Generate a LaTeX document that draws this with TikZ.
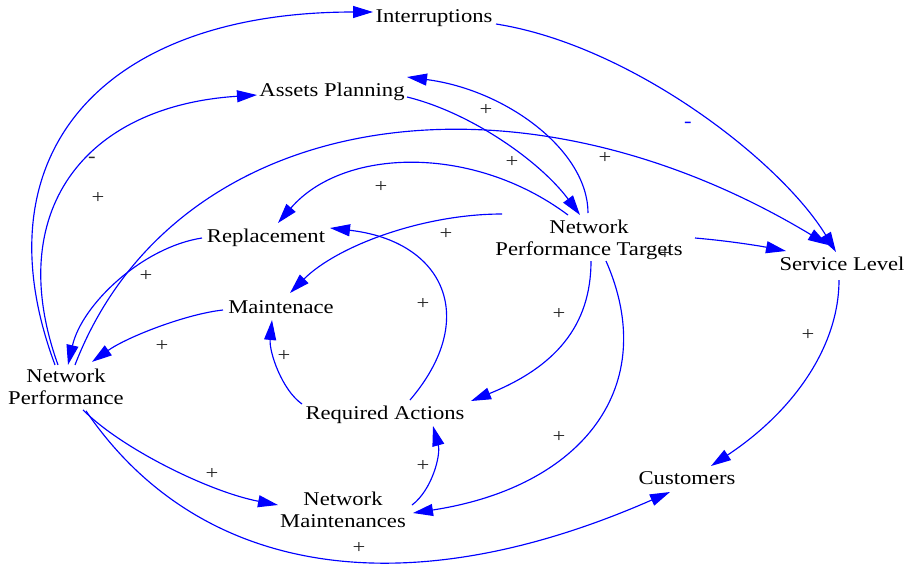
\documentclass[tikz,border=0pt]{standalone}
\usepackage{fontspec}
\setmainfont{Liberation Serif}
\usetikzlibrary{arrows.meta}
% horizontally widened text
\newcommand{\wtext}[1]{\scalebox{1.16}[1]{#1}}
\begin{document}
\begin{tikzpicture}[x=1pt,y=-1pt,
  var/.style={font=\fontsize{19.5}{22}\selectfont, inner sep=0pt, text=black},
  sign/.style={font=\fontsize{19.5}{22}\selectfont, inner sep=0pt, text=black!85},
  link/.style={draw=blue, line width=1.15pt, -{Triangle[length=20pt,width=12pt]}}]
\useasboundingbox (0,0) rectangle (918,566);

% variables
\node[var, anchor=base] (intr) at (434,22.7) {\wtext{Interruptions}};
\node[var, anchor=base] (ap)   at (332,96.5) {\wtext{Assets Planning}};
\node[var] (npt) at (589,239.6) {\wtext{\begin{tabular}{@{}c@{}}Network\\Performance Targets\end{tabular}}};
\node[var, anchor=base] (sl)   at (842,270) {\wtext{Service Level}};
\node[var, anchor=base] (rep)  at (266,242.5) {\wtext{Replacement}};
\node[var, anchor=base] (mnt)  at (281,313.5) {\wtext{Maintenace}};
\node[var] (np) at (66,388.9) {\wtext{\begin{tabular}{@{}c@{}}Network\\Performance\end{tabular}}};
\node[var, anchor=base] (ra)   at (385,419) {\wtext{Required Actions}};
\node[var] (nm) at (343,511.6) {\wtext{\begin{tabular}{@{}c@{}}Network\\Maintenances\end{tabular}}};
\node[var, anchor=base] (cus)  at (687,484.5) {\wtext{Customers}};

% causal links
\draw[link] ([shift={(-11,-24)}]np.center) .. controls (-24,153) and (104,12) .. ([shift={(-61,-10.7)}]intr.base);
\draw[link] ([shift={(-8,-24)}]np.center) .. controls (3,212) and (84,106) .. ([shift={(-75,-1.5)}]ap.base);
\draw[link] ([shift={(9,-24)}]np.center) .. controls (174,109) and (513,55) .. ([shift={(-14,-25)}]sl.base);
\draw[link] ([shift={(75,0.5)}]ap.base) .. controls (469,112) and (539,160) .. ([shift={(-9,-24.6)}]npt.center);
\draw[link] ([shift={(-1,-26.6)}]npt.center) .. controls (588,151) and (507,90) .. ([shift={(75,-19.5)}]ap.base);
\draw[link] ([shift={(-21,-24.6)}]npt.center) .. controls (473,144) and (343,147.5) .. ([shift={(12,-19.5)}]rep.base);
\draw[link] ([shift={(-87,-25.6)}]npt.center) .. controls (423,214) and (337,246) .. ([shift={(9,-20.5)}]mnt.base);
\draw[link] ([shift={(106,-1.6)}]npt.center) .. controls (730,241) and (760,246) .. ([shift={(-56,-19)}]sl.base);
\draw[link] ([shift={(2,21.4)}]npt.center) .. controls (591,326) and (555,367) .. ([shift={(86,-18)}]ra.base);
\draw[link] ([shift={(17,21.4)}]npt.center) .. controls (661,386) and (583,487) .. ([shift={(70,1.4)}]nm.center);
\draw[link] ([shift={(-3,10)}]sl.base) .. controls (839,346) and (794,411) .. ([shift={(24,-18.5)}]cus.base);
\draw[link] ([shift={(62,1.3)}]intr.base) .. controls (630,45) and (780,160) .. ([shift={(-6,-18)}]sl.base);
\draw[link] ([shift={(-64,-4.5)}]rep.base) .. controls (143,247) and (82,304) .. ([shift={(2,-24)}]np.center);
\draw[link] ([shift={(-58,-3.5)}]mnt.base) .. controls (186,314) and (127,337) .. ([shift={(26,-27)}]np.center);
\draw[link] ([shift={(-83,-15)}]ra.base) .. controls (282,390) and (269,352) .. ([shift={(-9,6.5)}]mnt.base);
\draw[link] ([shift={(25,-19)}]ra.base) .. controls (480,318) and (444,241) .. ([shift={(64,-14.5)}]rep.base);
\draw[link] ([shift={(69,-6.6)}]nm.center) .. controls (432,490) and (441,455) .. ([shift={(48,7)}]ra.base);
\draw[link] ([shift={(17,21)}]np.center) .. controls (122,449) and (210,492) .. ([shift={(-65,-6.6)}]nm.center);
\draw[link] ([shift={(20,22)}]np.center) .. controls (197,574) and (401,610) .. ([shift={(-17,7.5)}]cus.base);

% polarity signs
\node[sign] (s1)  at (486,110) {\wtext{+}};
\node[sign, text=blue] (s2) at (688,122) {\wtext{-\vphantom{+}}};
\node[sign] (s3)  at (605,158) {\wtext{+}};
\node[sign] (s4)  at (512,162) {\wtext{+}};
\node[sign] (s5)  at (92,157) {\wtext{-\vphantom{+}}};
\node[sign] (s6)  at (98,198) {\wtext{+}};
\node[sign] (s7)  at (381,187) {\wtext{+}};
\node[sign] (s8)  at (446,234) {\wtext{+}};
\node[sign] (s9)  at (146,276) {\wtext{+}};
\node[sign] (s10) at (423,304) {\wtext{+}};
\node[sign] (s11) at (559,314) {\wtext{+}};
\node[sign] (s12) at (162,346) {\wtext{+}};
\node[sign] (s13) at (284,356) {\wtext{+}};
\node[sign] (s14) at (808,335) {\wtext{+}};
\node[sign] (s15) at (665,254) {\wtext{+}};
\node[sign] (s16) at (559,437) {\wtext{+}};
\node[sign] (s17) at (423,466) {\wtext{+}};
\node[sign] (s18) at (212,474) {\wtext{+}};
\node[sign] (s19) at (359,548) {\wtext{+}};
\end{tikzpicture}
\end{document}
